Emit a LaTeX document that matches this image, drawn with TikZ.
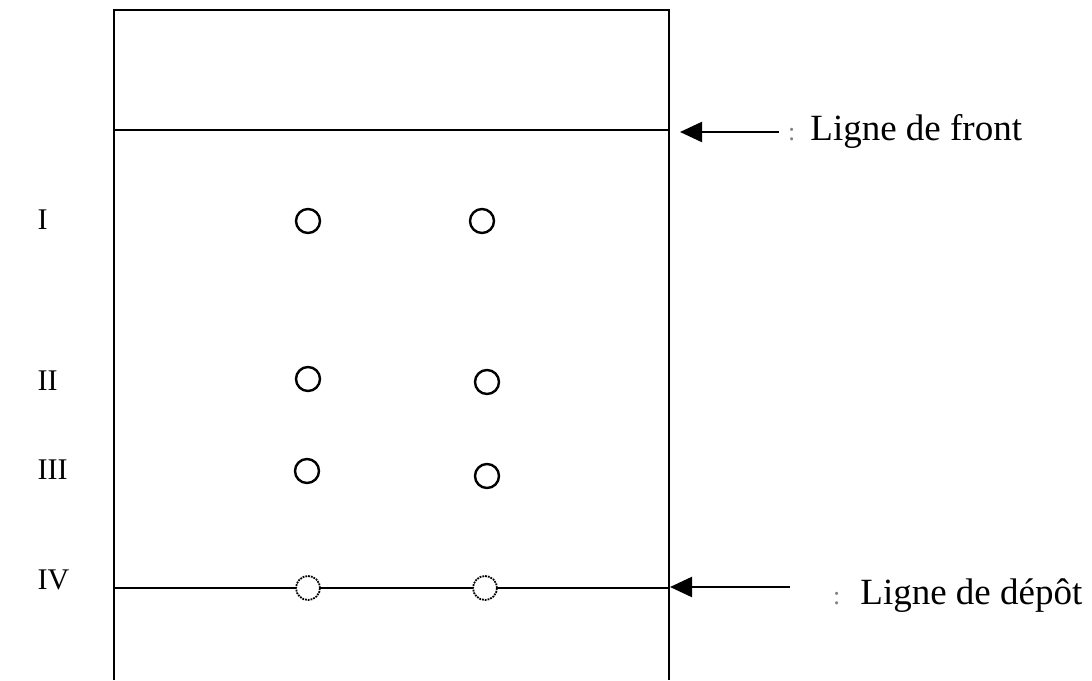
\documentclass[tikz,border=0pt]{standalone}
\usepackage{fontspec}
\setmainfont{Liberation Serif}
\usetikzlibrary{arrows.meta}
\newcommand{\sepmark}{{\color{gray}\fontsize{26}{26}\selectfont:}}
\begin{document}
\begin{tikzpicture}[x=1pt,y=-1pt,
  edge/.style={line width=2pt},
  spot/.style={circle,draw,line width=2.4pt,minimum size=24pt,inner sep=0pt},
  wetspot/.style={circle,draw,fill=white,densely dotted,line width=1.8pt,minimum size=24pt,inner sep=0pt},
  level/.style={font=\fontsize{30}{30}\selectfont,anchor=base west},
  caption/.style={font=\fontsize{37}{37}\selectfont,anchor=west,inner sep=0pt},
  pointer/.style={line width=2.2pt,-{Triangle[length=22pt,width=20pt]}}]
\useasboundingbox (0,0) rectangle (1092,680);

% plate outline, open at the bottom
\coordinate (bl) at (114,680);
\coordinate (tl) at (114,10);
\coordinate (tr) at (669,10);
\coordinate (br) at (669,680);
\draw[edge] (bl) -- (tl) -- (tr) -- (br);

% solvent front and spotting line
\coordinate (fl) at (114,130);
\coordinate (fr) at (669,130);
\draw[edge] (fl) -- (fr);
\coordinate (dl) at (114,588);
\coordinate (dr) at (669,588);
\draw[edge] (dl) -- (dr);

% spots
\node[spot] (s1a) at (308,221) {};
\node[spot] (s1b) at (482,221) {};
\node[spot] (s2a) at (308,379) {};
\node[spot] (s2b) at (487,382) {};
\node[spot] (s3a) at (307,471) {};
\node[spot] (s3b) at (487,476) {};
\node[wetspot] (s4a) at (308,588) {};
\node[wetspot] (s4b) at (485,588) {};

% level labels
\node[level] (l1) at (34,229) {I};
\node[level] (l2) at (34,390) {II};
\node[level] (l3) at (34,479) {III};
\node[level] (l4) at (34,589) {IV};

% captions with arrows
\node[caption] (front) at (788,131) {\sepmark\hspace{15pt}Ligne de front};
\node[caption] (depot) at (833,596) {\sepmark\hspace{20pt}Ligne de dépôt};
\coordinate (fa) at (779,132);
\coordinate (da) at (790,587);
\draw[pointer] (fa) -- (680,132);
\draw[pointer] (da) -- (670,587);
\end{tikzpicture}
\end{document}
